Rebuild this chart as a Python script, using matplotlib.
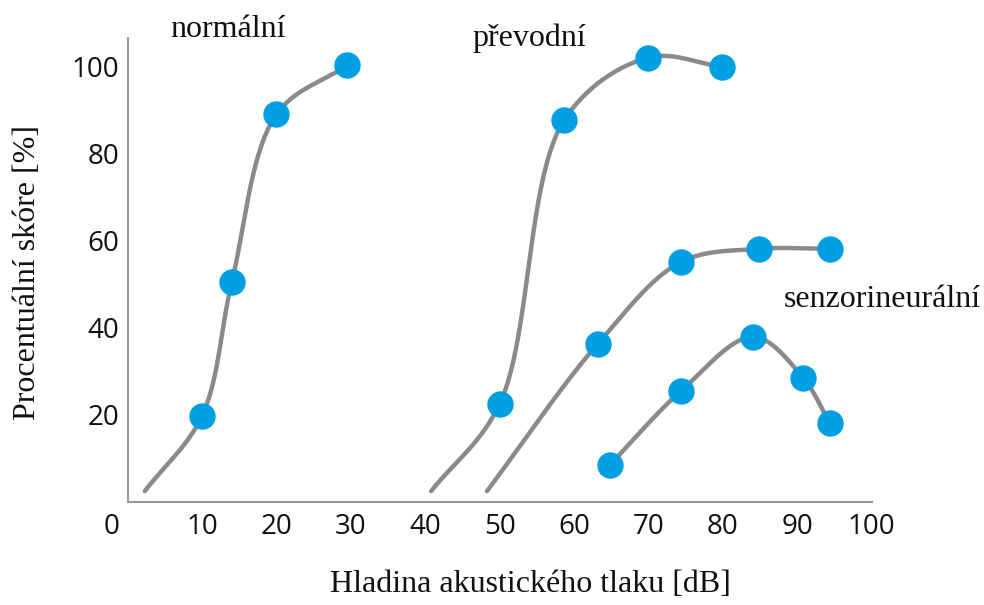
import numpy as np
import matplotlib
matplotlib.use("Agg")
import matplotlib.pyplot as plt
from matplotlib.transforms import ScaledTranslation

# ---- data (dB, %) ----
normal_x = [10, 14, 20, 29.5]
normal_y = [19.8, 50.5, 89, 100.2]
normal_tail = (2.3, 2.5)

conductive_x = [50, 58.7, 70, 79.9]
conductive_y = [22.5, 87.7, 102, 99.9]
conductive_tail = (40.8, 2.5)

sensor_hi_x = [63.2, 74.4, 84.9, 94.4]
sensor_hi_y = [36.3, 55.1, 58.1, 58.1]
sensor_hi_tail = (48.3, 2.5)

sensor_lo_x = [64.8, 74.4, 84.1, 90.8, 94.4]
sensor_lo_y = [8.5, 25.5, 37.9, 28.5, 18.1]

x_ticks = [0, 10, 20, 30, 40, 50, 60, 70, 80, 90, 100]
y_ticks = [20, 40, 60, 80, 100]

labels = {"normální": (13.5, 108.5), "převodní": (54, 106.5), "senzorineurální": (101.5, 46.5)}

LINE = "#8a8a8a"
DOT = "#009fe3"
SX, SY = 7.44, 4.354   # approximate pixel scale per data unit, for smooth curve shape


def catmull_rom(x, y, n=60, alpha=0.5):
    P = np.column_stack([np.asarray(x, float) * SX, np.asarray(y, float) * SY])
    P = np.vstack([2 * P[0] - P[1], P, 2 * P[-1] - P[-2]])
    out = []
    for i in range(1, len(P) - 2):
        p0, p1, p2, p3 = P[i - 1], P[i], P[i + 1], P[i + 2]
        t0 = 0.0
        t1 = t0 + np.linalg.norm(p1 - p0) ** alpha
        t2 = t1 + np.linalg.norm(p2 - p1) ** alpha
        t3 = t2 + np.linalg.norm(p3 - p2) ** alpha
        t = np.linspace(t1, t2, n)[:, None]
        a1 = (t1 - t) / (t1 - t0) * p0 + (t - t0) / (t1 - t0) * p1
        a2 = (t2 - t) / (t2 - t1) * p1 + (t - t1) / (t2 - t1) * p2
        a3 = (t3 - t) / (t3 - t2) * p2 + (t - t2) / (t3 - t2) * p3
        b1 = (t2 - t) / (t2 - t0) * a1 + (t - t0) / (t2 - t0) * a2
        b2 = (t3 - t) / (t3 - t1) * a2 + (t - t1) / (t3 - t1) * a3
        c = (t2 - t) / (t2 - t1) * b1 + (t - t1) / (t2 - t1) * b2
        out.append(c)
    C = np.vstack(out)
    return C[:, 0] / SX, C[:, 1] / SY


fig = plt.figure(figsize=(9.84, 6.05), dpi=100)
ax = fig.add_axes([127.7/984, (605-502)/605, 743.8/984, (502-38)/605])
ax.set_xlim(0, 100)
ax.set_ylim(0, 106.5)

series = [
    (normal_x, normal_y, normal_tail),
    (conductive_x, conductive_y, conductive_tail),
    (sensor_hi_x, sensor_hi_y, sensor_hi_tail),
    (sensor_lo_x, sensor_lo_y, None),
]
for xs, ys, tail in series:
    cx = ([tail[0]] if tail else []) + list(xs)
    cy = ([tail[1]] if tail else []) + list(ys)
    sx, sy = catmull_rom(cx, cy)
    ax.plot(sx, sy, color=LINE, lw=3.2, solid_capstyle="round", zorder=2)
    ax.plot(xs, ys, "o", color=DOT, ms=18, mec=DOT, zorder=3)

for s in ["top", "right"]:
    ax.spines[s].set_visible(False)
for s in ["left", "bottom"]:
    ax.spines[s].set_color("#9a9a9a")
    ax.spines[s].set_linewidth(1.5)

tick_font = dict(family="Open Sans", size=20)
ax.set_xticks(x_ticks)
ax.set_xticklabels([str(v) for v in x_ticks], **tick_font)
ax.set_yticks(y_ticks)
ax.set_yticklabels([str(v) for v in y_ticks], **tick_font)
ax.tick_params(axis="x", length=0, pad=8, colors="#111111")
ax.tick_params(axis="y", length=0, pad=6, colors="#111111")
# the "0" label sits a little left of the axis origin in the reference
lbl0 = ax.get_xticklabels()[0]
lbl0.set_transform(lbl0.get_transform() + ScaledTranslation(-16/100, 0, fig.dpi_scale_trans))

serif = "Liberation Serif"
for txt, (x, y) in labels.items():
    ax.text(x, y, txt, family=serif, fontsize=23, ha="center", va="center",
            clip_on=False, color="#111111")

fig.text(530/984, 1 - 585/605, "Hladina akustického tlaku [dB]", family=serif,
         fontsize=23, ha="center", va="center", color="#111111")
fig.text(28/984, 1 - 272/605, "Procentuální skóre [%]", family=serif,
         fontsize=23, ha="center", va="center", rotation=90, color="#111111")

fig.savefig("out.png", dpi=100)
